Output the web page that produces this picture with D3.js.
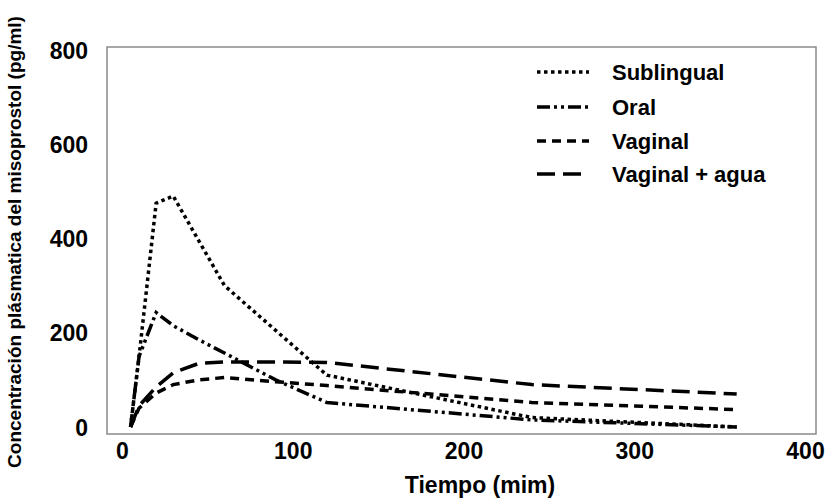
<!DOCTYPE html>
<html><head><meta charset="utf-8">
<script src="https://cdn.jsdelivr.net/npm/d3@7"></script>
<style>body{margin:0;background:#fff}svg{display:block}text{font-family:"Liberation Sans",Arial,sans-serif;font-weight:bold;fill:#000}</style>
</head><body><svg id="c" width="831" height="501"></svg>
<script>
const times = [5, 10, 20, 30, 45, 60, 90, 120, 240, 360];
const sublingual = [0, 150, 475, 490, 395, 300, 205, 110, 20, 0];
const oral = [0, 150, 243, 215, 185, 157, 100, 52, 15, 0];
const vaginal = [0, 40, 72, 90, 100, 105, 96, 88, 52, 37];
const vaginalAgua = [0, 45, 85, 115, 135, 138, 138, 137, 90, 70];
const seriesNames = ["Sublingual", "Oral", "Vaginal", "Vaginal + agua"];
const xTicks = [0, 100, 200, 300, 400];
const yTicks = [0, 200, 400, 600, 800];

const dashes = ["3.5,3.5", "13,4,3,4,3,4", "9,6", "18,8"];
const allSeries = [sublingual, oral, vaginal, vaginalAgua];

const svg = d3.select("#c");
const x = d3.scaleLinear().domain([0, 400]).range([122, 805]);
const y = d3.scaleLinear().domain([0, 800]).range([427, 50]);

// frame
svg.append("rect").attr("x", 107).attr("y", 47).attr("width", 709).attr("height", 387)
  .attr("fill", "none").attr("stroke", "#8a8a8a").attr("stroke-width", 1.5);

// axes (labels only)
const xa = svg.append("g").attr("transform", "translate(0,443)")
  .call(d3.axisBottom(x).tickValues(xTicks).tickSize(0).tickPadding(0).tickFormat(d3.format("d")));
xa.select(".domain").remove();
xa.selectAll("text").attr("dy", "0.71em").style("font-size", "23px").style("font-family", '"Liberation Sans",Arial,sans-serif').style("font-weight", "bold").attr("fill", "#000");

const ya = svg.append("g").attr("transform", "translate(88,0)")
  .call(d3.axisLeft(y).tickValues(yTicks).tickSize(0).tickPadding(0).tickFormat(d3.format("d")));
ya.select(".domain").remove();
ya.selectAll("text").attr("dy", "0.35em").style("font-size", "23px").style("font-family", '"Liberation Sans",Arial,sans-serif').style("font-weight", "bold").attr("fill", "#000");

// lines
const line = d3.line().x((d, i) => x(times[i])).y(d => y(d)).curve(d3.curveLinear);
allSeries.forEach((s, k) => {
  svg.append("path").datum(s).attr("d", line).attr("fill", "none").attr("stroke", "#000")
    .attr("stroke-width", 3.5).attr("stroke-dasharray", dashes[k]);
});

// legend
const legY = [72, 107, 141, 174];
seriesNames.forEach((n, k) => {
  svg.append("line").attr("x1", 537).attr("x2", 589).attr("y1", legY[k]).attr("y2", legY[k])
    .attr("stroke", "#000").attr("stroke-width", 3.5).attr("stroke-dasharray", dashes[k]);
  svg.append("text").attr("x", 612).attr("y", legY[k]).attr("dy", "0.35em").style("font-size", "22px").text(n);
});

// titles
svg.append("text").attr("x", 480).attr("y", 485).attr("dy", "0.35em").attr("text-anchor", "middle")
  .style("font-size", "23px").text("Tiempo (mim)");
svg.append("text").attr("transform", "translate(14,242) rotate(-90)").attr("dy", "0.35em").attr("text-anchor", "middle")
  .style("font-size", "19px").text("Concentración plásmatica del misoprostol (pg/ml)");
</script></body></html>
